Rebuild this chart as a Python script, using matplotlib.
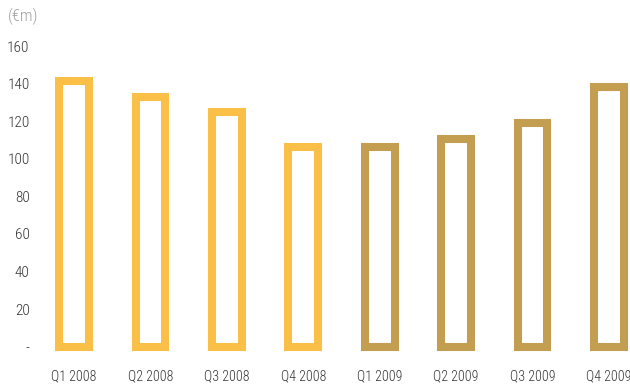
import matplotlib
matplotlib.use("Agg")
import matplotlib.pyplot as plt

plt.rcParams['font.family'] = ['Roboto Condensed', 'DejaVu Sans']
plt.rcParams['font.weight'] = 'light'

categories = ["Q1 2008", "Q2 2008", "Q3 2008", "Q4 2008",
              "Q1 2009", "Q2 2009", "Q3 2009", "Q4 2009"]
values = [141.3, 132.9, 124.7, 106.1, 106.1, 110.4, 118.9, 138.4]
colors = ["#F9BF47"] * 4 + ["#C39D50"] * 4
yticks = [0, 20, 40, 60, 80, 100, 120, 140, 160]
yticklabels = ["-", "20", "40", "60", "80", "100", "120", "140", "160"]

W, H = 630, 384
fig = plt.figure(figsize=(W / 100, H / 100), dpi=100)
left_px, right_px = 35.8, 630
bottom_px, top_px = 346.7, 46
ax = fig.add_axes([left_px / W, (H - bottom_px) / H,
                   (right_px - left_px) / W, (bottom_px - top_px) / H])

x = list(range(len(categories)))
for xi, v, c in zip(x, values, colors):
    ax.bar(xi, v, width=0.39, facecolor="none", edgecolor=c,
           linewidth=5.8, clip_on=False, joinstyle="miter")

ax.set_xlim(-0.5, 7.277)
ax.set_ylim(0, 160)
ax.set_yticks(yticks)
ax.set_yticklabels(yticklabels)
ax.set_xticks(x)
ax.set_xticklabels(categories)
ax.tick_params(axis="y", length=0, pad=4.5, labelsize=11, labelcolor="#333333")
ax.tick_params(axis="x", length=0, pad=16, labelsize=10, labelcolor="#333333")
for s in ax.spines.values():
    s.set_visible(False)

fig.text(8 / W, 1 - 16 / H, "(€m)", fontsize=12, color="#A0A0A0",
         ha="left", va="center")

fig.savefig("out.png", dpi=100)
